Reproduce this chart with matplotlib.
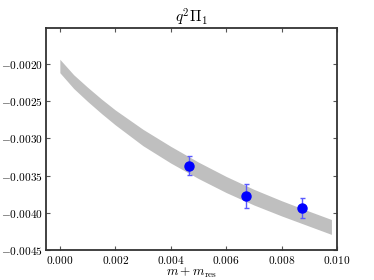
import matplotlib
matplotlib.use("Agg")
import matplotlib.pyplot as plt
from matplotlib.ticker import FuncFormatter, MultipleLocator

plt.rcParams['mathtext.fontset'] = 'cm'
plt.rcParams['font.family'] = ['DejaVu Serif']

# Data points
pt_x = [0.00465, 0.00672, 0.00873]
pt_y = [-0.00337, -0.00378, -0.00394]
pt_err = [0.000127, 0.000160, 0.000136]

# Fit band
band_x = [0.0000, 0.0005, 0.0010, 0.0015, 0.0020, 0.0030, 0.0040, 0.0050, 0.0060, 0.0070, 0.0080, 0.0090, 0.0098]
band_upper = [-0.00194, -0.002148, -0.002315, -0.002473, -0.00262, -0.00288, -0.003108, -0.00332, -0.003512, -0.003685, -0.003838, -0.00398, -0.00409]
band_lower = [-0.00212, -0.002332, -0.002505, -0.002667, -0.00282, -0.00310, -0.003332, -0.00354, -0.003728, -0.003895, -0.004042, -0.00418, -0.00429]

fig = plt.figure(figsize=(3.74, 2.80), dpi=100)
ax = fig.add_axes([0.123, 0.107, 0.778, 0.793])

ax.fill_between(band_x, band_lower, band_upper, color='#bfbfbf', linewidth=0, zorder=1)
ax.errorbar(pt_x, pt_y, yerr=pt_err, fmt='o', color='#0000ff', ecolor='#5a5aff',
            markersize=6.5, capsize=1.8, elinewidth=1.0, capthick=1.0, zorder=3)

ax.set_xlim(-0.0005, 0.010)
ax.set_ylim(-0.0045, -0.00152)
ax.xaxis.set_major_locator(MultipleLocator(0.002))
ax.yaxis.set_major_locator(MultipleLocator(0.0005))
ax.xaxis.set_major_formatter(FuncFormatter(lambda v, p: r"$%.3f$" % v))
ax.yaxis.set_major_formatter(FuncFormatter(lambda v, p: r"$%.4f$" % v))

ax.tick_params(direction='in', top=True, right=True, length=3, width=0.8,
               labelsize=8.2, pad=2.5, color='#555555')
for s in ax.spines.values():
    s.set_linewidth(1.3)
    s.set_color('#333333')

ax.set_title(r"$q^2\Pi_1$", fontsize=11, pad=4)
ax.set_xlabel(r"$m+m_{\rm res}$", fontsize=9.5, labelpad=0)

fig.savefig("out.png", dpi=100)
